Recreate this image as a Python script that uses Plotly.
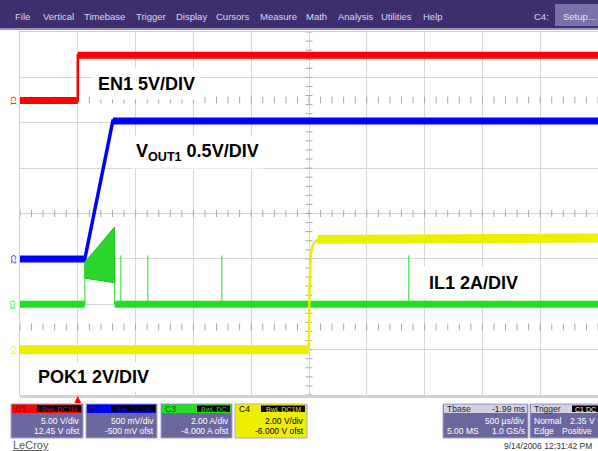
import plotly.graph_objects as go

# ---------------- screen geometry (pixels) ----------------
W, H = 598, 451
ML, MR, MT, MB = 20, 0, 32, 56
PW, PH = W - ML - MR, H - MT - MB


def px(x):
    """page pixel x -> paper fraction"""
    return (x - ML) / PW


def py(y):
    """page pixel y (from top) -> paper fraction"""
    return (H - MB - y) / PH


FONT = "Arial, Liberation Sans, sans-serif"

# ---------------- acquisition settings ----------------
T_LEFT, T_RIGHT = -0.5, 4.5          # ms, 500 us/div, trigger one division in
MS_PER_DIV = 0.5
CHANNELS = ["C1", "C2", "C3", "C4"]
VOLTS_PER_DIV = [5.0, 0.5, 2.0, 2.0]
OFFSETS = [12.45, -0.5, -4.0, -6.0]
TRACE_COLORS = ["#ff0000", "#0000ff", "#1ee01e", "#eeee00"]
LABEL_DARK = ["#7a0000", "#00006e", "#006400", "#000000"]

# ---------------- captured waveforms (time in ms) ----------------
# C1 : EN1 enable
en1_t = [-0.5, 0.0, 0.0, 4.5]
en1_v = [0.0, 0.0, 5.0, 5.0]

# C2 : VOUT1 soft-start ramp
vout1_t = [-0.5, 0.061, 0.303, 4.5]
vout1_v = [0.0, 0.0, 1.52, 1.52]

# C3 : IL1 inductor current, baseline with a gap during the start-up burst
il1_t = [-0.5, 0.061, None, 0.320, 4.5]
il1_a = [0.0, 0.0, None, 0.0, 0.0]
burst_t = [0.061, 0.061, 0.318, 0.318]
burst_a = [1.15, 1.85, 3.40, 0.95]
spike_t = [0.372, 0.606, 1.246, 2.863]
spike_a = [2.15, 2.15, 2.15, 2.15]

# C4 : POK1 power good
pok1_t = [-0.5, 1.998, 2.004, 2.015, 2.035, 2.075, 4.5]
pok1_v = [0.0, 0.0, 2.6, 4.2, 4.65, 4.85, 4.92]


def flat_band(t, v, vdiv):
    """segments that stay nearly level; drawn as the wide noise band"""
    bt, bv = [], []
    for i in range(len(t) - 1):
        if t[i] is None or t[i + 1] is None:
            continue
        dt_div = (t[i + 1] - t[i]) / MS_PER_DIV
        dv_div = abs(v[i + 1] - v[i]) / vdiv
        if dt_div > 0 and dv_div / dt_div < 0.5:
            bt += [t[i], t[i + 1], None]
            bv += [v[i], v[i + 1], None]
    return bt, bv


fig = go.Figure()

# ---- graticule tick rows / column ----
tick_x = [T_LEFT + k * 0.1 for k in range(51)]
for row in (2.5, 0.0, -2.5):
    fig.add_trace(go.Scatter(
        x=tick_x, y=[row] * len(tick_x), mode="markers", yaxis="y",
        marker=dict(symbol="line-ns", size=5, line=dict(width=1, color="#a9a9a9")),
        hoverinfo="skip", showlegend=False))
tick_y = [-4 + k * 0.2 for k in range(41)]
fig.add_trace(go.Scatter(
    x=[2.0] * len(tick_y), y=tick_y, mode="markers", yaxis="y",
    marker=dict(symbol="line-ew", size=5, line=dict(width=1, color="#a9a9a9")),
    hoverinfo="skip", showlegend=False))

# ---- waveforms ----
waves = [(en1_t, en1_v), (vout1_t, vout1_v), (il1_t, il1_a), (pok1_t, pok1_v)]
band_w = [7, 7, 7, 9]
edge_w = [2.5, 3.5, 2.5, 2.5]
for i, (t, v) in enumerate(waves):
    ax = "y%d" % (i + 2)
    col = TRACE_COLORS[i]
    if i == 2:
        # start-up switching burst
        fig.add_trace(go.Scatter(
            x=burst_t + [burst_t[0]], y=burst_a + [burst_a[0]], yaxis=ax,
            mode="lines", fill="toself", fillcolor="#2bd62b",
            line=dict(color="#14c814", width=1), hoverinfo="skip", showlegend=False))
        edges_t = [burst_t[0], burst_t[0], None, burst_t[-1], burst_t[-1], None]
        edges_a = [0.0, burst_a[0], None, burst_a[-1], 0.0, None]
        for st, sa in zip(spike_t, spike_a):
            edges_t += [st, st, None]
            edges_a += [0.0, sa, None]
        fig.add_trace(go.Scatter(
            x=edges_t, y=edges_a, yaxis=ax, mode="lines",
            line=dict(color="#48e048", width=1.2), hoverinfo="skip", showlegend=False))
    bt, bv = flat_band(t, v, VOLTS_PER_DIV[i])
    fig.add_trace(go.Scatter(
        x=bt, y=bv, yaxis=ax, mode="lines",
        line=dict(color=col, width=band_w[i]), hoverinfo="skip", showlegend=False))
    if i != 2:
        fig.add_trace(go.Scatter(
            x=t, y=v, yaxis=ax, mode="lines",
            line=dict(color=col, width=edge_w[i]), hoverinfo="skip", showlegend=False))

# ---------------- axes ----------------
layout_axes = dict(
    xaxis=dict(range=[T_LEFT, T_RIGHT], dtick=MS_PER_DIV, tick0=0,
               showgrid=True, gridcolor="#d6d6d6", gridwidth=1,
               showticklabels=False, ticks="", zeroline=False,
               showline=True, mirror=True, linecolor="#d0d0d0", linewidth=1),
    yaxis=dict(range=[-4, 4], dtick=1, showgrid=True, gridcolor="#d6d6d6",
               gridwidth=1, showticklabels=False, ticks="", zeroline=False,
               showline=True, mirror=True, linecolor="#d0d0d0", linewidth=1),
)
for i in range(4):
    lo = -4 * VOLTS_PER_DIV[i] - OFFSETS[i]
    hi = 4 * VOLTS_PER_DIV[i] - OFFSETS[i]
    layout_axes["yaxis%d" % (i + 2)] = dict(range=[lo, hi], overlaying="y",
                                            visible=False)

shapes = []
annotations = []


def rect(x0, y0, x1, y1, fill, line=None, lw=0):
    shapes.append(dict(type="rect", xref="paper", yref="paper",
                       x0=px(x0), x1=px(x1), y0=py(y1), y1=py(y0),
                       fillcolor=fill, line=dict(color=line or fill, width=lw),
                       layer="above"))


def text(x, y, s, size=9, color="#ffffff", anchor="left", bold=False,
         bg=None, pad=0, angle=0):
    # x is where the glyphs start; the background box extends by pad
    shift = -pad if anchor == "left" else (pad if anchor == "right" else 0)
    annotations.append(dict(
        x=px(x + shift), y=py(y), xref="paper", yref="paper",
        text="<b>%s</b>" % s if bold else s, showarrow=False,
        xanchor=anchor, yanchor="middle", textangle=angle,
        font=dict(family=FONT, size=size, color=color),
        bgcolor=bg, borderpad=pad))


# ---- menu bar ----
rect(0, 0, 598, 28, "#3e2e6f")
rect(0, 28, 598, 30, "#9a92c2")
menu_items = ["File", "Vertical", "Timebase", "Trigger", "Display", "Cursors",
              "Measure", "Math", "Analysis", "Utilities", "Help"]
menu_x = [14, 42, 83, 135, 175, 215, 259, 305, 337, 380, 422]
for s, x in zip(menu_items, menu_x):
    text(x, 16, s, size=9.5, color="#dcdaf0")
text(533, 16, "C4:", size=9.5, color="#dcdaf0")
rect(555, 4, 598, 26, "#7a70aa")
text(562, 16, "Setup...", size=9.5, color="#e6e4f6")

# ---- bottom edge of graticule and trigger-position marker ----
rect(20, 395, 598, 398, "#d2d2d2")
trig_px = ML + (0 - T_LEFT) / (T_RIGHT - T_LEFT) * PW
shapes.append(dict(type="path", xref="paper", yref="paper",
                   path="M %f,%f L %f,%f L %f,%f Z" % (
                       px(trig_px - 3.5), py(403), px(trig_px + 3.5), py(403),
                       px(trig_px), py(396)),
                   fillcolor="#ff0000", line=dict(width=0), layer="above"))

# ---- channel ground markers at the left edge ----
for i, name in enumerate(CHANNELS):
    annotations.append(dict(
        x=px(13), y=0.0, xref="paper", yref="y%d" % (i + 2), text=name,
        showarrow=False, textangle=90, xanchor="center", yanchor="middle",
        font=dict(family=FONT, size=7, color=TRACE_COLORS[i])))

# ---- trace labels ----
text(97, 84, "EN1 5V/DIV", size=18, color="#000000", bold=True, bg="#ffffff", pad=5)
text(135, 152, "V<sub>OUT1</sub> 0.5V/DIV", size=18, color="#000000", bold=True,
     bg="#ffffff", pad=4)
text(428, 283, "IL1 2A/DIV", size=18, color="#000000", bold=True, bg="#ffffff", pad=6)
text(37, 377, "POK1 2V/DIV", size=18, color="#000000", bold=True, bg="#ffffff", pad=4)

# ---- channel descriptor boxes ----
BODY = "#6b679f"
box_x = [(11, 83), (86, 157), (161, 232), (235, 307)]
badges = ["BwL DC1M", "BwL DC1M", "BwL DC", "BwL DC1M"]
for i, name in enumerate(CHANNELS):
    x0, x1 = box_x[i]
    body = TRACE_COLORS[i] if i == 3 else BODY
    rect(x0, 404, x1, 438, body, line="#a8a4d0", lw=1)
    rect(x0 + 1, 404.5, x1 - 1, 413, TRACE_COLORS[i])
    text(x0 + 3, 409, name, size=8.5, color=LABEL_DARK[i])
    bw = 44 if badges[i].endswith("M") else 33
    rect(x1 - bw - 2, 405.5, x1 - 2, 412, "#000000")
    text(x1 - bw / 2 - 2, 409, badges[i], size=7, color=TRACE_COLORS[i],
         anchor="center")
    tc = "#000000" if i == 3 else "#ffffff"
    scale_txt = ["5.00 V/div", "500 mV/div", "2.00 A/div", "2.00 V/div"][i]
    ofst_txt = ["12.45 V ofst", "-500 mV ofst", "-4.000 A ofst", "-6.000 V ofst"][i]
    text(x1 - 2, 421, scale_txt, size=8.5, color=tc, anchor="right")
    text(x1 - 2, 431, ofst_txt, size=8.5, color=tc, anchor="right")

# ---- timebase box ----
rect(443, 404, 528, 438, BODY, line="#a8a4d0", lw=1)
rect(444, 404.5, 527, 413, "#d4d2e2")
text(446, 409, "Tbase", size=8.5, color="#222222")
text(526, 409, "-1.99 ms", size=8.5, color="#222222", anchor="right")
text(526, 421, "500 µs/div", size=8.5, anchor="right")
text(446, 431, "5.00 MS", size=8.5)
text(526, 431, "1.0 GS/s", size=8.5, anchor="right")

# ---- trigger box ----
rect(530, 404, 600, 438, BODY, line="#a8a4d0", lw=1)
rect(531, 404.5, 600, 413, "#d4d2e2")
text(533, 409, "Trigger", size=8.5, color="#222222")
rect(572, 405.5, 600, 412, "#000000")
text(574, 409, "C1 DC", size=7, color="#ffffff")
text(533, 421, "Normal", size=8.5)
text(596, 421, "2.35 V", size=8.5, anchor="right")
text(533, 431, "Edge", size=8.5)
text(561, 431, "Positive", size=8.5)

# ---- footer ----
text(593, 446, "9/14/2006 12:31:42 PM", size=8.5, color="#333333", anchor="right")
text(12, 445, "<u>LeCroy</u>", size=11, color="#555555")

fig.update_layout(
    width=W, height=H,
    margin=dict(l=ML, r=MR, t=MT, b=MB, pad=0),
    paper_bgcolor="#ffffff", plot_bgcolor="#ffffff",
    showlegend=False,
    shapes=shapes, annotations=annotations,
    **layout_axes,
)

fig.write_html("out.html")
